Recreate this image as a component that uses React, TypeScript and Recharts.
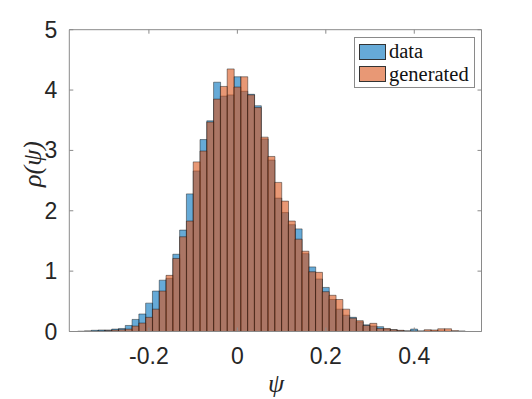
import React from "react";
import { ComposedChart, Bar, XAxis, YAxis } from "recharts";

// histogram bins: centre of bin k is k * binWidth
const binWidth = 0.01536;
const binIndex = [
  -23, -22, -21, -20, -19, -18, -17, -16, -15, -14, -13, -12, -11, -10, -9, -8, -7, -6, -5, -4, -3, -2, -1,
  0, 1, 2, 3, 4, 5, 6, 7, 8, 9, 10, 11, 12, 13, 14, 15, 16, 17, 18, 19, 20, 21, 22, 23, 24, 25, 26, 27, 28,
  29, 30, 31, 32, 33,
];

const dataValues = [
  0.005, 0.01, 0.02, 0.025, 0.025, 0.04, 0.05, 0.1, 0.2, 0.29, 0.47, 0.67, 0.85, 0.88, 1.28, 1.68, 2.28,
  2.66, 3.18, 3.49, 4.13, 3.9, 3.92, 4.22, 3.98, 3.93, 3.74, 3.19, 2.84, 2.21, 1.97, 1.77, 1.7, 1.29, 1.07,
  0.87, 0.73, 0.53, 0.37, 0.27, 0.235, 0.16, 0.11, 0.09, 0.08, 0.04, 0.03, 0.015, 0.01, 0.04, 0.005, 0.01,
  0.01, 0.01, 0.005, 0, 0,
];

const generatedValues = [
  0, 0.005, 0.005, 0.01, 0.015, 0.025, 0.03, 0.04, 0.09, 0.14, 0.235, 0.37, 0.67, 0.93, 1.21, 1.57, 1.83,
  2.81, 2.99, 3.47, 3.85, 4.06, 4.35, 4.05, 4.22, 3.92, 3.71, 3.22, 2.9, 2.47, 2.16, 1.83, 1.53, 1.33, 0.99,
  0.98, 0.66, 0.6, 0.53, 0.37, 0.22, 0.18, 0.1, 0.135, 0.05, 0.05, 0.03, 0.02, 0.01, 0.01, 0.01, 0.03,
  0.025, 0.045, 0.045, 0.015, 0.01,
];

const xTicks = [-0.2, 0, 0.2, 0.4];
const yTicks = [0, 1, 2, 3, 4, 5];
const seriesNames = ["data", "generated"];

const xDomain = [-0.38, 0.552];
const yDomain = [0, 5];

const rows = binIndex.map((k, i) => ({
  x: k * binWidth,
  data: dataValues[i],
  generated: generatedValues[i],
}));

const AXIS = "#8a8a8a";
const TEXT = "#262626";
const BLUE = "#0072BD";
const ORANGE = "#D95319";
const tickFont = { fontFamily: "'Liberation Sans', Arial, sans-serif", fontSize: 23, fill: TEXT };
const serif = "'Liberation Serif', 'DejaVu Serif', serif";

const fmt = (v: number) => (v === 0 ? "0" : String(v));

const BottomTick = (props: any) => {
  const { x, y, payload } = props;
  return (
    <g>
      <line x1={x} x2={x} y1={y} y2={y - 4} stroke={AXIS} />
      <text x={x} y={y + 32} textAnchor="middle" {...tickFont}>
        {fmt(payload.value)}
      </text>
    </g>
  );
};

const TopTick = (props: any) => {
  const { x, y } = props;
  return <line x1={x} x2={x} y1={y} y2={y + 4} stroke={AXIS} />;
};

const LeftTick = (props: any) => {
  const { x, y, payload } = props;
  return (
    <g>
      <line x1={x} x2={x + 4} y1={y} y2={y} stroke={AXIS} />
      <text x={x - 12} y={y + 8} textAnchor="end" {...tickFont}>
        {fmt(payload.value)}
      </text>
    </g>
  );
};

const RightTick = (props: any) => {
  const { x, y } = props;
  return <line x1={x} x2={x - 4} y1={y} y2={y} stroke={AXIS} />;
};

const App: React.FC = () => {
  return (
    <div style={{ position: "absolute", left: 0, top: 0, width: 532, height: 399, background: "#fff" }}>
      <ComposedChart
        width={532}
        height={399}
        data={rows}
        margin={{ top: 28.7, right: 49.5, bottom: 27.5, left: 0 }}
        barCategoryGap={0}
        barGap={0}
      >
        <XAxis
          xAxisId="a"
          dataKey="x"
          type="number"
          domain={xDomain}
          allowDataOverflow
          ticks={xTicks}
          interval={0}
          height={40}
          tickSize={0}
          tickMargin={0}
          tickLine={false}
          axisLine={{ stroke: AXIS }}
          tick={<BottomTick />}
        />
        <XAxis xAxisId="b" dataKey="x" type="number" domain={xDomain} allowDataOverflow hide />
        <XAxis
          xAxisId="top"
          orientation="top"
          dataKey="x"
          type="number"
          domain={xDomain}
          allowDataOverflow
          ticks={xTicks}
          interval={0}
          height={1}
          tickSize={0}
          tickMargin={0}
          tickLine={false}
          axisLine={{ stroke: AXIS }}
          tick={<TopTick />}
        />
        <YAxis
          type="number"
          domain={yDomain}
          allowDataOverflow
          ticks={yTicks}
          interval={0}
          width={69.3}
          tickSize={0}
          tickMargin={0}
          tickLine={false}
          axisLine={{ stroke: AXIS }}
          tick={<LeftTick />}
        />
        <YAxis
          yAxisId="right"
          orientation="right"
          type="number"
          domain={yDomain}
          allowDataOverflow
          ticks={yTicks}
          interval={0}
          width={1}
          tickSize={0}
          tickMargin={0}
          tickLine={false}
          axisLine={{ stroke: AXIS }}
          tick={<RightTick />}
        />
        <Bar
          xAxisId="a"
          dataKey="data"
          name={seriesNames[0]}
          fill={BLUE}
          fillOpacity={0.6}
          stroke="#111"
          strokeOpacity={0.75}
          strokeWidth={0.6}
          isAnimationActive={false}
        />
        <Bar
          xAxisId="b"
          dataKey="generated"
          name={seriesNames[1]}
          fill={ORANGE}
          fillOpacity={0.6}
          stroke="#111"
          strokeOpacity={0.75}
          strokeWidth={0.6}
          isAnimationActive={false}
        />
      </ComposedChart>

      {/* legend */}
      <div
        style={{
          position: "absolute",
          left: 354,
          top: 37,
          width: 119,
          height: 49,
          border: `1px solid ${AXIS}`,
          background: "#fff",
          fontFamily: serif,
          fontSize: 20.5,
          color: "#111",
        }}
      >
        {seriesNames.map((name, i) => (
          <div
            key={name}
            style={{ position: "absolute", left: 4, top: 5 + i * 22.5, height: 17, display: "flex", alignItems: "center" }}
          >
            <div
              style={{
                width: 27,
                height: 16,
                background: i === 0 ? "rgba(0,114,189,0.6)" : "rgba(217,83,25,0.6)",
                border: "1px solid #333",
                boxSizing: "border-box",
              }}
            />
            <span style={{ marginLeft: 3, lineHeight: "17px" }}>{name}</span>
          </div>
        ))}
      </div>

      {/* axis labels */}
      <div
        style={{
          position: "absolute",
          left: 33,
          top: 164,
          transform: "translate(-50%, -50%) rotate(-90deg)",
          fontFamily: serif,
          fontStyle: "italic",
          fontSize: 26,
          color: TEXT,
          whiteSpace: "nowrap",
        }}
      >
        ρ(ψ)
      </div>
      <div
        style={{
          position: "absolute",
          left: 276,
          top: 384,
          transform: "translate(-50%, -50%)",
          fontFamily: serif,
          fontStyle: "italic",
          fontSize: 26,
          color: TEXT,
        }}
      >
        ψ
      </div>
    </div>
  );
};

export default App;
